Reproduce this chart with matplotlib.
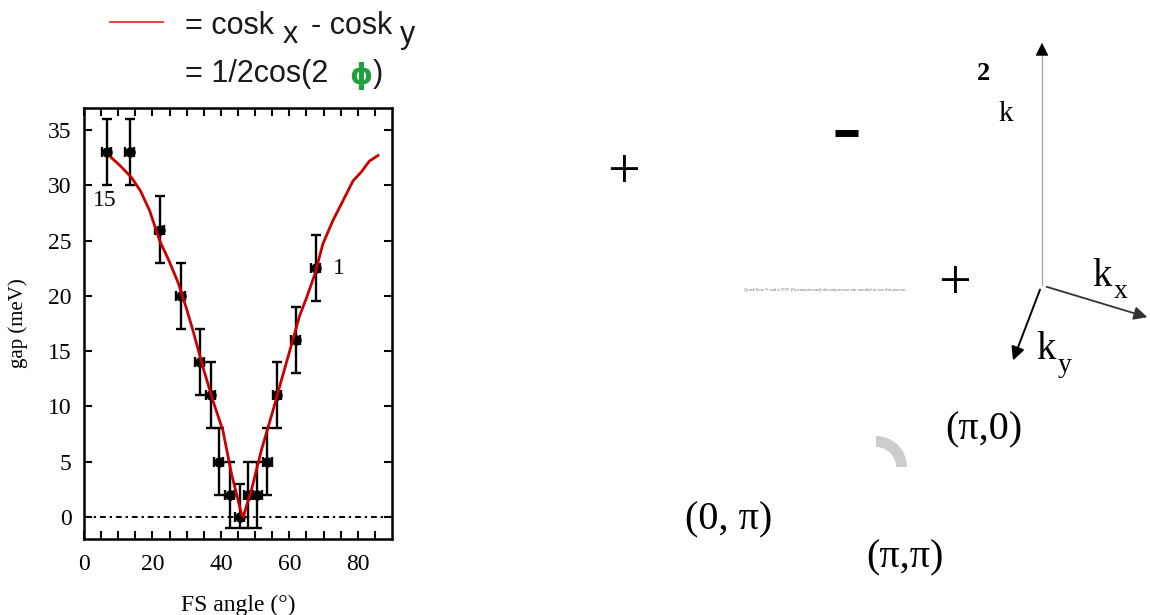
import matplotlib
matplotlib.use("Agg")
import matplotlib.pyplot as plt
from matplotlib.patches import Wedge
from matplotlib.lines import Line2D

# ---- data ----
pt_x = [6.7, 13.4, 22.1, 28.3, 33.8, 37.0, 39.4, 42.6, 45.5, 48.0, 50.6, 53.5, 56.4, 61.9, 67.7]
pt_y = [33, 33, 26, 20, 14, 11, 5, 2, 0, 2, 2, 5, 11, 16, 22.5]
yerr_lo = [3, 3, 3, 3, 3, 3, 3, 3, 1, 3, 3, 3, 3, 3, 3]
yerr_hi = [3, 3, 3, 3, 3, 3, 3, 3, 3, 3, 3, 3, 3, 3, 3]
xerr = [1.3] * 15

curve_x = [8.0, 10.5, 13.9, 16.5, 19.2, 22.1, 24.8, 27.5, 30.0, 31.9, 34.8, 37.7, 40.6,
           43.1, 46.0, 46.5, 48.9, 51.8, 55.2, 57.8, 60.1, 63.0, 65.0, 67.5, 69.8, 72.7,
           75.5, 78.6, 81.0, 83.4, 85.9]
curve_y = [32.5, 31.8, 30.7, 29.5, 27.7, 25.0, 23.2, 21.2, 18.8, 16.8, 13.5, 10.5, 7.8,
           3.9, 0.3, 0.0, 2.4, 6.0, 9.6, 12.5, 15.0, 18.2, 19.8, 22.0, 24.7, 26.8,
           28.5, 30.4, 31.2, 32.2, 32.7]

x_ticklabels = [0, 20, 40, 60, 80]
y_ticklabels = [0, 5, 10, 15, 20, 25, 30, 35]

W, H = 1150, 615
fig = plt.figure(figsize=(W / 100, H / 100), dpi=100)

serif = ["Liberation Serif", "DejaVu Serif"]
sans = ["Liberation Sans", "DejaVu Sans"]

def fx(px):
    return px / W

def fy(py):
    return 1 - py / H

# ---- left data panel ----
ax = fig.add_axes([fx(84), fy(539), (392 - 84) / W, (539 - 108) / H])
ax.set_xlim(0, 90)
ax.set_ylim(-2, 37)

ax.axhline(0, color="black", lw=1.4, linestyle=(0, (3, 2, 1.2, 2)), zorder=1)
ax.plot(curve_x, curve_y, color="#cc0000", lw=2, zorder=3)
ax.errorbar(pt_x, pt_y, yerr=[yerr_lo, yerr_hi], xerr=xerr, fmt="o", color="black",
            ms=6.5, elinewidth=1.7, capsize=3.5, capthick=1.7, zorder=2)

ax.text(6.0, 28.6, "15", fontsize=17, family=serif, ha="center", va="center")
ax.text(74.5, 22.5, "1", fontsize=17, family=serif, ha="center", va="center")

ax.set_xticks(x_ticklabels)
ax.set_xticks(list(range(5, 90, 5)), minor=True)
ax.set_yticks(y_ticklabels)
ax.tick_params(which="both", direction="in", top=True, right=True, length=6, width=1.5,
               labelsize=17)
ax.tick_params(axis="x", pad=11)
ax.tick_params(axis="y", pad=9)
for lab in ax.get_xticklabels() + ax.get_yticklabels():
    lab.set_family(serif)
for s in ax.spines.values():
    s.set_linewidth(1.8)
ax.set_xlabel("FS angle (°)", fontsize=17, family=serif, labelpad=14)
ax.set_ylabel("gap (meV)", fontsize=15, family=serif, labelpad=14)

# ---- legend text at top ----
fig.add_artist(Line2D([fx(110), fx(163)], [fy(21.5), fy(21.5)], color="#e0443c", lw=1.4))
fs_leg = 22
tc = "#1a1a1a"
fig.text(fx(185), fy(34), "= cosk", fontsize=fs_leg, family=sans, va="baseline", color=tc)
fig.text(fx(283), fy(43), "x", fontsize=fs_leg, family=sans, va="baseline", color=tc)
fig.text(fx(311), fy(34), "- cosk", fontsize=fs_leg, family=sans, va="baseline", color=tc)
fig.text(fx(400), fy(43), "y", fontsize=fs_leg, family=sans, va="baseline", color=tc)
fig.text(fx(185), fy(82), "= 1/2cos(2", fontsize=fs_leg, family=sans, va="baseline", color=tc)
fig.text(fx(361), fy(84), "ϕ", fontsize=21, family=["DejaVu Sans"], va="baseline", ha="center",
         color="#22a040", fontweight="bold")
fig.text(fx(373), fy(82), ")", fontsize=fs_leg, family=sans, va="baseline", color=tc)

# ---- right schematic ----
ov = fig.add_axes([0, 0, 1, 1])
ov.set_xlim(0, W)
ov.set_ylim(H, 0)
ov.axis("off")

ov.text(624, 174, "+", fontsize=42, family=serif, ha="center", va="center")
ov.text(955, 285, "+", fontsize=42, family=serif, ha="center", va="center")
ov.plot([835, 858], [133, 133], color="black", lw=5, solid_capstyle="butt")
ov.text(983, 73, "2", fontsize=19, family=serif, fontweight="bold", ha="center", va="center")
ov.text(1006, 114, "k", fontsize=21, family=serif, ha="center", va="center")

# vertical axis arrow
ov.plot([1042, 1042], [285, 52], color="#aaaaaa", lw=1)
ov.annotate("", xy=(1042, 40), xytext=(1042, 56),
            arrowprops=dict(arrowstyle="-|>", color="black", lw=0.8, mutation_scale=20))
# kx arrow
ov.annotate("", xy=(1150, 318), xytext=(1044, 286),
            arrowprops=dict(arrowstyle="-|>", color="#333333", lw=1.3, mutation_scale=20))
# ky arrow
ov.annotate("", xy=(1012, 363), xytext=(1041, 287),
            arrowprops=dict(arrowstyle="-|>", color="black", lw=1.4, mutation_scale=20))
ov.text(1092, 286, "k", fontsize=28, family=serif, va="baseline")
ov.text(1114, 298, "x", fontsize=20, family=serif, va="baseline")
ov.text(1036, 359, "k", fontsize=28, family=serif, va="baseline")
ov.text(1058, 372, "y", fontsize=20, family=serif, va="baseline")

ov.text(825, 290, "QuickTime™ and a TIFF (Uncompressed) decompressor are needed to see this picture.",
        fontsize=3.1, color="#777777", family=sans, ha="center", va="center")

ov.add_patch(Wedge((876, 467), 31, 270, 360, width=11, color="#cccccc", lw=0))

ov.text(984, 430, "(π,0)", fontsize=29, family=serif, ha="center", va="center")
ov.text(729, 520, "(0, π)", fontsize=29, family=serif, ha="center", va="center")
ov.text(905, 558, "(π,π)", fontsize=29, family=serif, ha="center", va="center")

fig.savefig("out.png", dpi=100)
